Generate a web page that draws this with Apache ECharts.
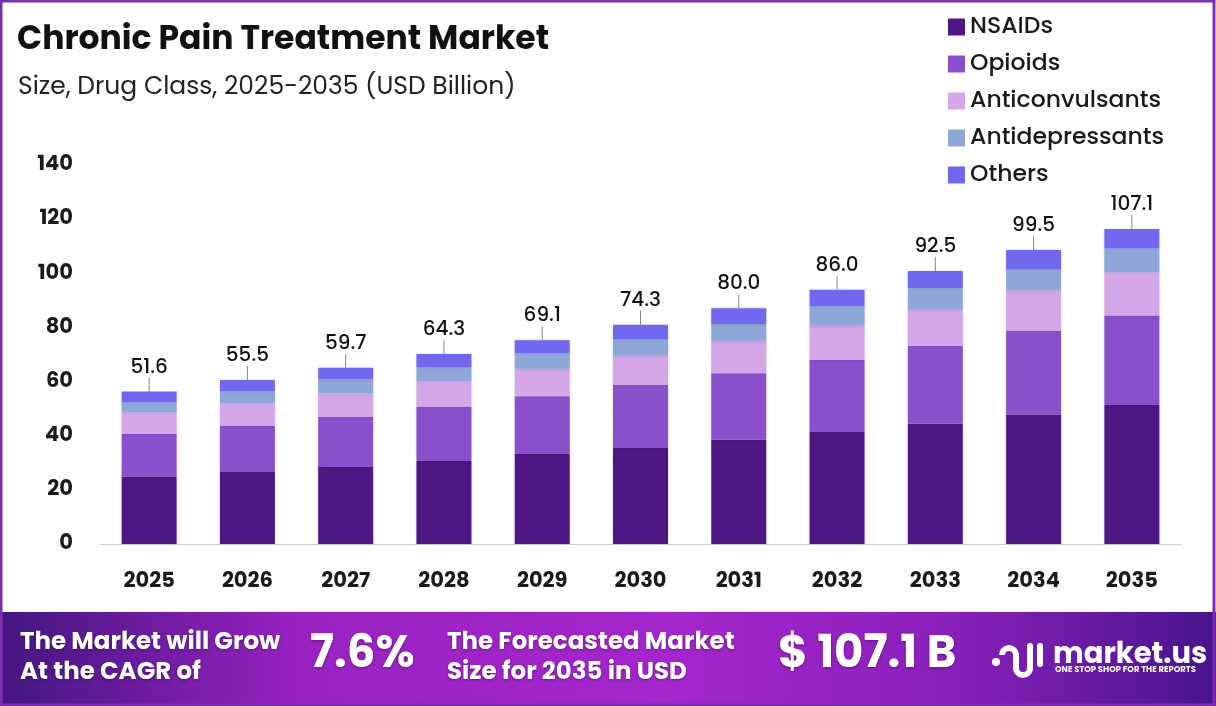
<!DOCTYPE html>
<html>
<head>
<meta charset="utf-8">
<script src="https://cdn.jsdelivr.net/npm/echarts@6/dist/echarts.min.js"></script>
<style>
html,body{margin:0;padding:0;background:#fff;}
#chart{width:1216px;height:706px;}
</style>
</head>
<body>
<div id="chart"></div>
<script>
// ---- data ----
var years = ['2025','2026','2027','2028','2029','2030','2031','2032','2033','2034','2035'];
var nsaids          = [24.9, 26.6, 28.4, 30.7, 33.4, 35.5, 38.5, 41.4, 44.4, 47.8, 51.3];
var opioids         = [15.7, 17.1, 18.5, 19.9, 21.2, 23.3, 24.6, 26.6, 28.8, 30.9, 33.1];
var anticonvulsants = [8.0, 8.3, 8.8, 9.6, 10.1, 10.8, 11.6, 12.6, 13.4, 14.9, 16.0];
var antidepressants = [3.7, 4.5, 5.2, 5.1, 5.8, 6.1, 6.6, 7.3, 7.9, 8.0, 8.8];
var others          = [4.0, 4.1, 4.2, 4.9, 4.8, 5.3, 5.8, 6.0, 6.3, 7.0, 7.2];
var totals          = ['51.6','55.5','59.7','64.3','69.1','74.3','80.0','86.0','92.5','99.5','107.1'];
var yTicks = [0, 20, 40, 60, 80, 100, 120, 140];

var FONT = 'Poppins, "Open Sans", Inter, sans-serif';
var colors = ['#4f1784', '#8a4fcb', '#d3a7e8', '#8ea6d8', '#7168ef'];
var names = ['NSAIDs', 'Opioids', 'Anticonvulsants', 'Antidepressants', 'Others'];
var seriesData = [nsaids, opioids, anticonvulsants, antidepressants, others];

var chart = echarts.init(document.getElementById('chart'), null, {renderer: 'canvas'});

var series = seriesData.map(function (d, i) {
  var s = {
    name: names[i],
    type: 'bar',
    stack: 'total',
    barWidth: 55,
    data: d,
    itemStyle: {color: colors[i], shadowColor: 'rgba(0,0,0,0.18)', shadowBlur: 3},
    emphasis: {disabled: true}
  };
  if (i === 4) {
    s.label = {
      show: true,
      position: 'top',
      distance: 6,
      formatter: function (p) { return totals[p.dataIndex]; },
      fontFamily: FONT,
      fontSize: 20,
      fontWeight: 500,
      color: '#111'
    };
    s.labelLayout = {dy: -8};
    s.labelLine = {show: true, lineStyle: {color: '#888', width: 1}};
  }
  return s;
});

var shadowTxt = {textShadowColor: 'rgba(0,0,0,0.35)', textShadowBlur: 3, textShadowOffsetY: 1};

var option = {
  backgroundColor: '#fff',
  animation: false,
  textStyle: {fontFamily: FONT},
  grid: {left: 100, right: 35, top: 165, bottom: 162, containLabel: false},
  legend: {
    orient: 'vertical',
    left: 943,
    top: 10,
    itemWidth: 17,
    itemHeight: 17,
    itemGap: 13,
    icon: 'rect',
    textStyle: {fontFamily: FONT, fontSize: 23.5, fontWeight: 500, color: '#1a1a1a'},
    data: names
  },
  xAxis: {
    type: 'category',
    data: years,
    axisLine: {lineStyle: {color: '#d0d0d0', width: 1}},
    axisTick: {show: false},
    axisLabel: {fontFamily: FONT, fontSize: 21, fontWeight: 'bold', color: '#1a1a1a', margin: 27}
  },
  yAxis: {
    type: 'value',
    min: yTicks[0],
    max: yTicks[yTicks.length - 1],
    interval: 20,
    splitLine: {show: false},
    axisLine: {show: false},
    axisTick: {show: false},
    axisLabel: {fontFamily: FONT, fontSize: 21, fontWeight: 'bold', color: '#1a1a1a', margin: 27}
  },
  graphic: [
    // frame
    {type: 'rect', shape: {x: 1, y: 1, width: 1213, height: 704}, style: {fill: 'none', stroke: '#7a2fb0', lineWidth: 3}, z: 100},
    // footer band
    {type: 'rect', shape: {x: 0, y: 612, width: 1216, height: 94},
      style: {fill: new echarts.graphic.LinearGradient(0, 0, 1, 0, [
        {offset: 0, color: '#431680'},
        {offset: 0.25, color: '#9a22c2'},
        {offset: 0.55, color: '#a426cc'},
        {offset: 0.78, color: '#8a20bc'},
        {offset: 1, color: '#48148c'}
      ])}, z: 90},
    {type: 'text', left: 17, top: 24, style: {text: 'Chronic Pain Treatment Market', font: 'bold 33px ' + FONT, fill: '#111'}, z: 95},
    {type: 'text', left: 18, top: 75, style: {text: 'Size, Drug Class, 2025-2035 (USD Billion)', font: '25px ' + FONT, fill: '#222'}, z: 95},
    {type: 'text', left: 20, top: 628, style: Object.assign({text: 'The Market will Grow\nAt the CAGR of', font: 'bold 24.5px ' + FONT, fill: '#fff', lineHeight: 30}, shadowTxt), z: 95},
    {type: 'text', left: 310, top: 633, style: Object.assign({text: '7.6%', font: 'bold 45px ' + FONT, fill: '#fff'}, shadowTxt), z: 95},
    {type: 'text', left: 447, top: 628, style: Object.assign({text: 'The Forecasted Market\nSize for 2035 in USD', font: 'bold 24.5px ' + FONT, fill: '#fff', lineHeight: 30}, shadowTxt), z: 95},
    {type: 'text', left: 778, top: 633, style: Object.assign({text: '$ 107.1 B', font: 'bold 45px ' + FONT, fill: '#fff'}, shadowTxt), z: 95},
    // logo icon (approximation)
    {type: 'circle', shape: {cx: 996, cy: 662, r: 4}, style: {fill: '#fff'}, z: 95},
    {type: 'arc', shape: {cx: 1009, cy: 655, r: 7, startAngle: Math.PI, endAngle: 2 * Math.PI}, style: {stroke: '#fff', lineWidth: 6, fill: 'none'}, z: 95},
    {type: 'line', shape: {x1: 1016, y1: 655, x2: 1016, y2: 668}, style: {stroke: '#fff', lineWidth: 6, lineCap: 'round'}, z: 95},
    {type: 'arc', shape: {cx: 1023, cy: 668, r: 7, startAngle: 0, endAngle: Math.PI}, style: {stroke: '#fff', lineWidth: 6, fill: 'none'}, z: 95},
    {type: 'line', shape: {x1: 1030, y1: 646, x2: 1030, y2: 668}, style: {stroke: '#fff', lineWidth: 6, lineCap: 'round'}, z: 95},
    {type: 'line', shape: {x1: 1040, y1: 646, x2: 1040, y2: 664}, style: {stroke: '#fff', lineWidth: 6, lineCap: 'round'}, z: 95},
    {type: 'text', left: 1053, top: 641, style: {text: 'market.us', font: 'bold 29px ' + FONT, fill: '#fff'}, z: 95},
    {type: 'text', left: 1055, top: 666, style: {text: 'ONE STOP SHOP FOR THE REPORTS', font: 'bold 8.4px ' + FONT, fill: '#fff'}, z: 95}
  ],
  series: series
};
chart.setOption(option);
</script>
</body>
</html>
